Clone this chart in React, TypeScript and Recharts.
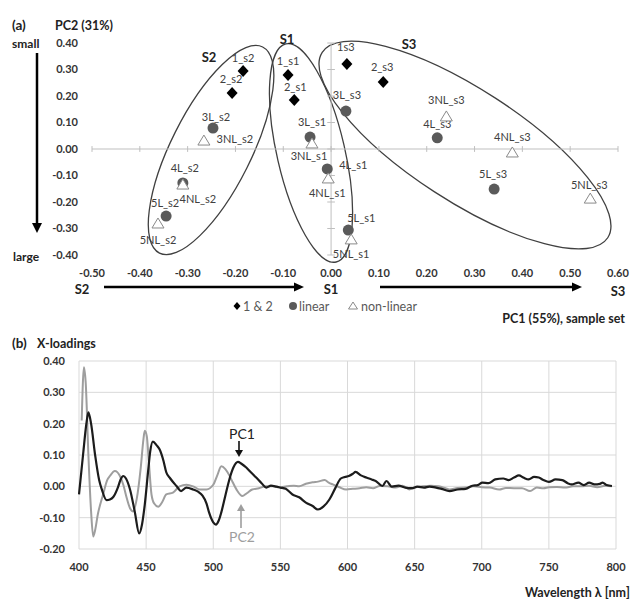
import React from 'react';
import {
  ScatterChart,
  Scatter,
  LineChart,
  Line,
  XAxis,
  YAxis,
  CartesianGrid,
  ReferenceLine,
  ReferenceArea
} from 'recharts';

// (a) score plot: samples 1 & 2
const pairNames = ['1_s2', '2_s2', '1_s1', '2_s1', '1s3', '2_s3'];
const pairPc1 = [-0.184, -0.207, -0.09, -0.077, 0.033, 0.109];
const pairPc2 = [0.294, 0.211, 0.279, 0.185, 0.321, 0.253];

// linear samples
const linNames = ['3L_s2', '4L_s2', '5L_s2', '3L_s1', '4L_s1', '5L_s1', '3L_s3', '4L_s3', '5L_s3'];
const linPc1 = [-0.247, -0.31, -0.345, -0.044, -0.008, 0.036, 0.031, 0.222, 0.341];
const linPc2 = [0.079, -0.128, -0.253, 0.045, -0.075, -0.306, 0.143, 0.042, -0.151];

// non-linear samples
const nlNames = ['3NL_s2', '4NL_s2', '5NL_s2', '3NL_s1', '4NL_s1', '5NL_s1', '3NL_s3', '4NL_s3', '5NL_s3'];
const nlPc1 = [-0.266, -0.31, -0.362, -0.04, -0.006, 0.042, 0.241, 0.379, 0.542];
const nlPc2 = [0.03, -0.136, -0.283, 0.019, -0.113, -0.343, 0.121, -0.015, -0.189];

const scoreXTicks = [-0.5, -0.4, -0.3, -0.2, -0.1, 0, 0.1, 0.2, 0.3, 0.4, 0.5, 0.6];
const scoreYTicks = [-0.4, -0.3, -0.2, -0.1, 0, 0.1, 0.2, 0.3, 0.4];

// group ellipses: centre, half-axes (axis units), tilt in degrees
const groupNames = ['S2', 'S1', 'S3'];
const groupCx = [-0.251, -0.042, 0.28];
const groupCy = [-0.004, -0.015, 0.015];
const groupRx = [0.241, 0.234, 0.356];
const groupRy = [0.151, 0.128, 0.211];
const groupTilt = [-63.4, 77, 33];

// (b) X-loadings
const pc1Wl = [400, 403, 405.5, 407, 409, 412, 415, 417, 420.5, 423, 425.5, 429, 431, 433, 435, 438, 441.5, 444.8, 447, 449, 451.5, 453, 455, 458, 460, 463, 465, 468, 472.6, 476, 480, 485, 489, 492, 495, 497, 500, 502, 504, 506, 509, 512, 515, 518.4, 521, 524.6, 528, 532, 536, 539.5, 543, 547, 550, 554, 559, 564, 569, 574, 578, 582, 586.5, 591, 595, 598, 601, 604, 606, 610, 614, 618, 621, 626, 629, 633, 638, 643, 648, 652, 657, 661, 666, 670, 676, 682, 688, 693, 697, 700.5, 705, 710, 716, 720, 724, 727.7, 731, 735, 739, 742.5, 746, 750, 755, 760, 764, 767, 772, 776, 780, 784, 788, 790, 793, 797];
const pc1Val = [-0.026, 0.1, 0.2, 0.236, 0.2, 0.1, 0.02, -0.01, -0.044, -0.042, -0.034, -0.003, 0.022, 0.033, 0.025, -0.01, -0.08, -0.15, -0.12, -0.058, 0.049, 0.11, 0.143, 0.13, 0.118, 0.08, 0.045, 0.025, 0.001, -0.015, -0.004, -0.01, -0.018, -0.03, -0.055, -0.085, -0.115, -0.122, -0.11, -0.083, -0.03, 0.022, 0.06, 0.078, 0.072, 0.06, 0.045, 0.028, 0.01, -0.004, 0.002, -0.001, -0.004, -0.008, -0.026, -0.035, -0.052, -0.063, -0.074, -0.065, -0.042, -0.005, 0.025, 0.03, 0.033, 0.04, 0.046, 0.035, 0.028, 0.022, 0.017, 0.001, 0.017, -0.001, 0.002, -0.004, -0.006, -0.001, -0.004, -0.001, -0.004, -0.008, -0.015, -0.01, -0.008, 0.002, 0.004, 0.012, 0.01, 0.022, 0.025, 0.02, 0.028, 0.035, 0.028, 0.022, 0.03, 0.028, 0.02, 0.014, 0.022, 0.02, 0.01, 0.006, 0.012, 0.004, 0.012, 0.006, 0.008, 0.012, 0.004, 0.001];

const pc2Wl = [402, 403.7, 405, 407, 409, 410.6, 412, 414, 418, 421, 423, 426.7, 430.5, 433, 435.4, 438, 440.3, 443, 446, 448, 449, 450.5, 452, 454, 456, 459, 462, 465, 470, 475, 480, 485, 490, 495, 500, 503, 506, 509, 512, 514.5, 518, 521.6, 525, 529, 534, 539, 545, 549, 555, 560, 564, 569, 574, 578, 583, 586, 589, 594, 599, 604, 609, 614, 619, 624, 630, 636, 641, 646, 650, 656, 662, 668, 673, 676, 682, 688, 694, 700, 706, 713, 718, 724, 730, 736, 741, 746, 750, 756, 762, 768, 774, 780, 786, 792, 797];
const pc2Val = [0.21, 0.38, 0.33, 0.1, -0.08, -0.16, -0.14, -0.09, -0.025, 0.02, 0.033, 0.049, 0.033, 0.005, -0.035, -0.07, -0.08, -0.04, 0.06, 0.15, 0.177, 0.16, 0.08, -0.026, -0.055, -0.065, -0.05, -0.026, -0.02, 0, 0.005, 0, -0.01, -0.01, 0.005, 0.035, 0.064, 0.055, 0.035, 0.013, -0.015, -0.031, -0.022, -0.01, -0.006, 0, 0, -0.003, 0, 0.002, 0, 0.008, 0.013, 0.015, 0.02, 0.012, 0.006, -0.003, -0.01, -0.008, -0.006, -0.003, -0.006, 0.001, 0, -0.004, 0.002, -0.01, -0.004, 0, 0.002, 0, -0.006, -0.01, -0.005, -0.004, 0, -0.003, -0.004, -0.01, -0.005, -0.006, -0.006, -0.015, -0.004, -0.006, -0.003, -0.002, -0.004, 0, 0, 0.002, -0.003, 0.002, 0];

const wlTicks = [400, 450, 500, 550, 600, 650, 700, 750, 800];
const loadTicks = [-0.2, -0.1, 0, 0.1, 0.2, 0.3, 0.4];

// label placement around each marker (px), kept apart from the values
const labelShift: Record<string, [number, number]> = {
  '1_s2': [0, -14], '2_s2': [-1, -15], '3L_s2': [3, -12], '3NL_s2': [31, -3],
  '4L_s2': [2, -15], '4NL_s2': [15, 13], '5L_s2': [-1, -14], '5NL_s2': [0, 16],
  '1_s1': [0, -15], '2_s1': [1, -13], '3L_s1': [2, -16], '3NL_s1': [-3, 12],
  '4L_s1': [26, -4], '4NL_s1': [-1, 14], '5L_s1': [13, -13], '5NL_s1': [0, 14],
  '1s3': [-1, -17], '2_s3': [-1, -15], '3L_s3': [1, -17], '3NL_s3': [0, -17],
  '4L_s3': [0, -14], '4NL_s3': [0, -16], '5L_s3': [-1, -16], '5NL_s3': [-1, -15]
};

const zip = (names: string[], xs: number[], ys: number[]) =>
  names.map((name, i) => ({ name, pc1: xs[i], pc2: ys[i] }));

const pairData = zip(pairNames, pairPc1, pairPc2);
const linData = zip(linNames, linPc1, linPc2);
const nlData = zip(nlNames, nlPc1, nlPc2);
const pc1Data = pc1Wl.map((wl, i) => ({ wl, v: pc1Val[i] }));
const pc2Data = pc2Wl.map((wl, i) => ({ wl, v: pc2Val[i] }));

const fmt = (v: number) => (Math.abs(v) < 1e-9 ? 0 : v).toFixed(2);
const tickStyle = { fontSize: 11, fontWeight: 700, fill: '#333' };
const FONT = "Lato, 'Open Sans', sans-serif";

const PointLabel = ({ cx, cy, name }: any) => {
  const [dx, dy] = labelShift[name] || [0, -14];
  return (
    <text x={cx + dx} y={cy + dy} textAnchor="middle" dominantBaseline="central" fontSize={11} fill="#404040">
      {name}
    </text>
  );
};

const Diamond = (props: any) => {
  const { cx, cy, payload } = props;
  return (
    <g>
      <polygon points={`${cx},${cy - 6} ${cx + 5.5},${cy} ${cx},${cy + 6} ${cx - 5.5},${cy}`} fill="#000" />
      <PointLabel cx={cx} cy={cy} name={payload.name} />
    </g>
  );
};

const Dot = (props: any) => {
  const { cx, cy, payload } = props;
  return (
    <g>
      <circle cx={cx} cy={cy} r={5.5} fill="#5a5a5a" />
      <PointLabel cx={cx} cy={cy} name={payload.name} />
    </g>
  );
};

const Tri = (props: any) => {
  const { cx, cy, payload } = props;
  return (
    <g>
      <polygon points={`${cx},${cy - 6} ${cx + 6},${cy + 4} ${cx - 6},${cy + 4}`} fill="#fff" stroke="#8a8a8a" strokeWidth={1} />
      <PointLabel cx={cx} cy={cy} name={payload.name} />
    </g>
  );
};

const Ellipse = (tilt: number) => (props: any) => {
  const { x, y, width, height } = props;
  const cx = x + width / 2;
  const cy = y + height / 2;
  return (
    <ellipse cx={cx} cy={cy} rx={Math.abs(width) / 2} ry={Math.abs(height) / 2}
      transform={`rotate(${tilt} ${cx} ${cy})`} fill="none" stroke="#404040" strokeWidth={1.3} />
  );
};

const ScorePlot = () => (
  <ScatterChart width={634} height={330} margin={{ top: 43, right: 16, bottom: 45, left: 52 }}>
    <XAxis type="number" dataKey="pc1" domain={[-0.5, 0.6]} ticks={scoreXTicks} tickFormatter={fmt}
      axisLine={false} tickLine={false} tickSize={0} tickMargin={14} height={30} tick={tickStyle} interval={0} />
    <YAxis type="number" dataKey="pc2" domain={[-0.4, 0.4]} ticks={scoreYTicks} tickFormatter={fmt}
      axisLine={false} tickLine={false} tickSize={0} tickMargin={14} width={40} tick={tickStyle} interval={0} />
    <ReferenceLine y={0} stroke="#bfbfbf" />
    <ReferenceLine x={0} stroke="#bfbfbf" />
    {scoreXTicks.map(t => (
      <ReferenceLine key={'xt' + t} segment={[{ x: t, y: -0.011 }, { x: t, y: 0.011 }]} stroke="#bfbfbf" ifOverflow="visible" />
    ))}
    {scoreYTicks.map(t => (
      <ReferenceLine key={'yt' + t} segment={[{ x: -0.008, y: t }, { x: 0.008, y: t }]} stroke="#bfbfbf" ifOverflow="visible" />
    ))}
    {groupNames.map((g, i) => (
      <ReferenceArea key={g} x1={groupCx[i] - groupRx[i]} x2={groupCx[i] + groupRx[i]}
        y1={groupCy[i] - groupRy[i]} y2={groupCy[i] + groupRy[i]} ifOverflow="visible"
        shape={Ellipse(groupTilt[i])} />
    ))}
    <Scatter name="1 & 2" data={pairData} shape={Diamond} isAnimationActive={false} />
    <Scatter name="linear" data={linData} shape={Dot} isAnimationActive={false} />
    <Scatter name="non-linear" data={nlData} shape={Tri} isAnimationActive={false} />
  </ScatterChart>
);

const LoadingsPlot = () => (
  <LineChart width={634} height={270} margin={{ top: 31, right: 18, bottom: 21, left: 39 }}>
    <CartesianGrid stroke="#d9d9d9" />
    <XAxis type="number" dataKey="wl" domain={[400, 800]} ticks={wlTicks} allowDuplicatedCategory={false}
      axisLine={false} tickLine={false} tickSize={0} tickMargin={14} height={30} tick={tickStyle} interval={0} />
    <YAxis type="number" domain={[-0.2, 0.4]} ticks={loadTicks} tickFormatter={fmt}
      axisLine={false} tickLine={false} tickSize={0} tickMargin={14} width={40} tick={tickStyle} interval={0} />
    <Line data={pc2Data} dataKey="v" type="monotone" stroke="#9e9e9e" strokeWidth={2} dot={false} isAnimationActive={false} />
    <Line data={pc1Data} dataKey="v" type="monotone" stroke="#1c1c1c" strokeWidth={2.2} dot={false} isAnimationActive={false} />
  </LineChart>
);

const bold = { fontWeight: 700 } as const;

const Overlay = () => (
  <svg width={634} height={600} style={{ position: 'absolute', left: 0, top: 0, pointerEvents: 'none' }}>
    <g fill="#222" dominantBaseline="central">
      <text x={12} y={25} fontSize={13.5} style={bold}>(a)</text>
      <text x={55} y={25} fontSize={12.5} style={bold}>PC2 (31%)</text>
      <text x={12} y={43} fontSize={12} style={bold}>small</text>
      <text x={13} y={256} fontSize={12} style={bold}>large</text>
      <text x={209} y={57} fontSize={13} style={bold} textAnchor="middle">S2</text>
      <text x={287} y={39} fontSize={13} style={bold} textAnchor="middle">S1</text>
      <text x={409} y={44} fontSize={13} style={bold} textAnchor="middle">S3</text>
      <text x={82} y={289} fontSize={13} style={bold} textAnchor="middle">S2</text>
      <text x={331} y={289} fontSize={13} style={bold} textAnchor="middle">S1</text>
      <text x={618} y={291} fontSize={13} style={bold} textAnchor="middle">S3</text>
      <text x={625} y={318} fontSize={12.5} style={bold} textAnchor="end">PC1 (55%), sample set</text>
      <text x={12} y={343} fontSize={13.5} style={bold}>(b)</text>
      <text x={37} y={343} fontSize={12.5} style={bold}>X-loadings</text>
      <text x={630} y={592} fontSize={12.5} style={bold} textAnchor="end">Wavelength λ [nm]</text>
    </g>
    {/* small -> large arrow */}
    <line x1={37} y1={53} x2={37} y2={225} stroke="#000" strokeWidth={2.5} />
    <polygon points="32,223 42,223 37,233" fill="#000" />
    {/* S2 -> S1 -> S3 arrows */}
    <line x1={104} y1={287} x2={296} y2={287} stroke="#000" strokeWidth={2.5} />
    <polygon points="294,282.5 294,291.5 304,287" fill="#000" />
    <line x1={380} y1={287} x2={574} y2={287} stroke="#000" strokeWidth={2.5} />
    <polygon points="572,282.5 572,291.5 582,287" fill="#000" />
    {/* legend */}
    <g fill="#595959" dominantBaseline="central" fontSize={12.5}>
      <polygon points="237,302 240.5,306 237,310 233.5,306" fill="#000" />
      <text x={243} y={306}>1 &amp; 2</text>
      <circle cx={293} cy={306} r={4} fill="#5a5a5a" />
      <text x={299} y={306}>linear</text>
      <polygon points="353,302 357.5,309 348.5,309" fill="#fff" stroke="#8a8a8a" />
      <text x={361} y={306}>non-linear</text>
    </g>
    {/* PC1 / PC2 callouts */}
    <text x={242} y={433} fontSize={14} fill="#222" textAnchor="middle" dominantBaseline="central">PC1</text>
    <line x1={239} y1={441} x2={239} y2={451} stroke="#111" strokeWidth={1.6} />
    <polygon points="235,450 243,450 239,457" fill="#111" />
    <text x={242} y={536} fontSize={14} fill="#9e9e9e" textAnchor="middle" dominantBaseline="central">PC2</text>
    <line x1={241} y1={528} x2={241} y2={510} stroke="#9e9e9e" strokeWidth={1.6} />
    <polygon points="237,511 245,511 241,504" fill="#9e9e9e" />
  </svg>
);

export default function App() {
  return (
    <div style={{ position: 'absolute', left: 0, top: 0, width: 634, height: 600, background: '#fff', fontFamily: FONT }}>
      <div style={{ position: 'absolute', left: 0, top: 0 }}>
        <ScorePlot />
      </div>
      <div style={{ position: 'absolute', left: 0, top: 330 }}>
        <LoadingsPlot />
      </div>
      <Overlay />
    </div>
  );
}
